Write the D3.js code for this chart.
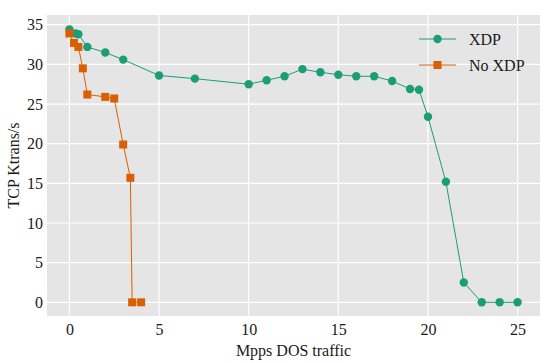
<!DOCTYPE html>
<html>
<head>
<meta charset="utf-8">
<script src="https://cdn.jsdelivr.net/npm/d3@7"></script>
<style>
  body { margin: 0; background: #fff; }
  text { font-family: "Liberation Serif", "DejaVu Serif", serif; }
</style>
</head>
<body>
<script>
let w = 553;
let h = 363;
let margin = {top: 15, right: 13, bottom: 47, left: 47};

// XDP series
var xdpX = [0, 0.35, 0.5, 1, 2, 3, 5, 7, 10, 11, 12, 13, 14, 15, 16, 17, 18, 19, 19.5, 20, 21, 22, 23, 24, 25];
var xdpY = [34.4, 33.9, 33.8, 32.2, 31.5, 30.6, 28.6, 28.2, 27.5, 28.0, 28.5, 29.4, 29.0, 28.7, 28.5, 28.5, 27.9, 26.9, 26.8, 23.4, 15.2, 2.5, 0, 0, 0];

// No XDP series
var noXdpX = [0, 0.25, 0.5, 0.75, 1, 2, 2.5, 3, 3.4, 3.5, 4];
var noXdpY = [33.9, 32.7, 32.2, 29.5, 26.2, 25.9, 25.7, 19.9, 15.7, 0, 0];

var xTicks = [0, 5, 10, 15, 20, 25];
var yTicks = [0, 5, 10, 15, 20, 25, 30, 35];
var seriesNames = ["XDP", "No XDP"];
var colors = ["#1b9e77", "#d95f02"];

let svg = d3.select("body")
    .append("svg")
    .attr("width", w)
    .attr("height", h);

let x = d3.scaleLinear()
    .domain([-1.25, 26.25])
    .range([margin.left, w - margin.right]);

let y = d3.scaleLinear()
    .domain([-1.725, 36.225])
    .range([h - margin.bottom, margin.top]);

// panel
svg.append("rect")
    .attr("x", margin.left)
    .attr("y", margin.top)
    .attr("width", w - margin.left - margin.right)
    .attr("height", h - margin.top - margin.bottom)
    .attr("fill", "#e5e5e5");

// grid
svg.selectAll(".gx")
    .data(xTicks)
    .enter()
    .append("line")
    .attr("x1", d => x(d))
    .attr("x2", d => x(d))
    .attr("y1", margin.top)
    .attr("y2", h - margin.bottom)
    .attr("stroke", "#fff")
    .attr("stroke-width", 1.2);

svg.selectAll(".gy")
    .data(yTicks)
    .enter()
    .append("line")
    .attr("x1", margin.left)
    .attr("x2", w - margin.right)
    .attr("y1", d => y(d))
    .attr("y2", d => y(d))
    .attr("stroke", "#fff")
    .attr("stroke-width", 1.2);

// axes (labels only, no ticks)
let xAxis = svg.append("g")
    .attr("transform", `translate(0, ${h - margin.bottom})`)
    .call(d3.axisBottom(x).tickValues(xTicks).tickSize(0).tickPadding(8));
let yAxis = svg.append("g")
    .attr("transform", `translate(${margin.left}, 0)`)
    .call(d3.axisLeft(y).tickValues(yTicks).tickSize(0).tickPadding(4));

[xAxis, yAxis].forEach(a => {
    a.select(".domain").remove();
    a.selectAll("text")
        .attr("font-family", "Liberation Serif")
        .attr("font-size", 16)
        .attr("fill", "#1a1a1a");
});

svg.append("text")
    .attr("x", (margin.left + w - margin.right) / 2)
    .attr("y", 356)
    .attr("text-anchor", "middle")
    .attr("font-size", 16)
    .attr("fill", "#1a1a1a")
    .text("Mpps DOS traffic");

svg.append("text")
    .attr("transform", `translate(19, ${(margin.top + h - margin.bottom) / 2}) rotate(-90)`)
    .attr("text-anchor", "middle")
    .attr("font-size", 16)
    .attr("fill", "#1a1a1a")
    .text("TCP Ktrans/s");

let line = d3.line()
    .x(d => x(d[0]))
    .y(d => y(d[1]));

let xdpData = xdpX.map((d, i) => [d, xdpY[i]]);
let noXdpData = noXdpX.map((d, i) => [d, noXdpY[i]]);

svg.append("path")
    .datum(xdpData)
    .attr("d", line)
    .attr("fill", "none")
    .attr("stroke", colors[0])
    .attr("stroke-width", 1);

svg.append("path")
    .datum(noXdpData)
    .attr("d", line)
    .attr("fill", "none")
    .attr("stroke", colors[1])
    .attr("stroke-width", 1);

svg.selectAll(".pxdp")
    .data(xdpData)
    .enter()
    .append("circle")
    .attr("cx", d => x(d[0]))
    .attr("cy", d => y(d[1]))
    .attr("r", 4.2)
    .attr("fill", colors[0]);

svg.selectAll(".pno")
    .data(noXdpData)
    .enter()
    .append("rect")
    .attr("x", d => x(d[0]) - 4)
    .attr("y", d => y(d[1]) - 4)
    .attr("width", 8)
    .attr("height", 8)
    .attr("fill", colors[1]);

// legend
let legend = svg.append("g");
seriesNames.forEach((name, i) => {
    let ly = 39 + i * 26;
    legend.append("line")
        .attr("x1", 419).attr("x2", 456)
        .attr("y1", ly).attr("y2", ly)
        .attr("stroke", colors[i])
        .attr("stroke-width", 1);
    if (i === 0) {
        legend.append("circle")
            .attr("cx", 437.5).attr("cy", ly).attr("r", 4.2)
            .attr("fill", colors[i]);
    } else {
        legend.append("rect")
            .attr("x", 433.5).attr("y", ly - 4)
            .attr("width", 8).attr("height", 8)
            .attr("fill", colors[i]);
    }
    legend.append("text")
        .attr("x", 469)
        .attr("y", ly + 5.5)
        .attr("font-size", 16)
        .attr("fill", "#1a1a1a")
        .text(name);
});
</script>
</body>
</html>
